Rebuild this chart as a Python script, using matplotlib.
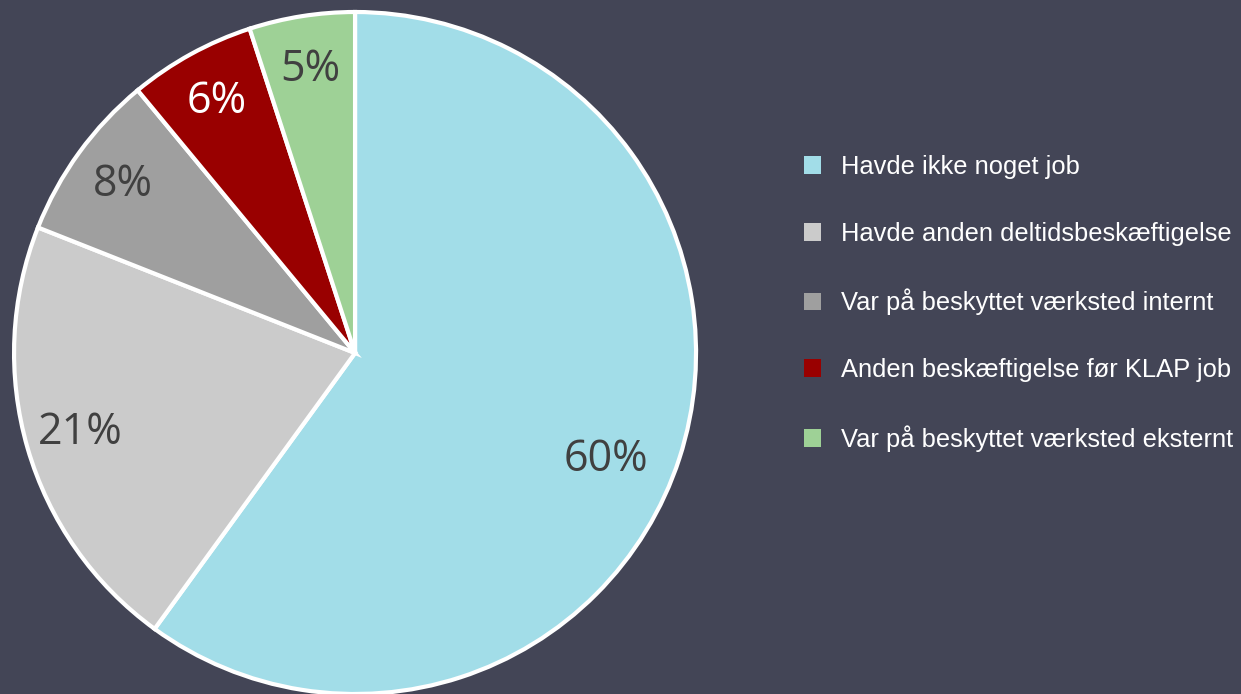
import numpy
import matplotlib
matplotlib.use("Agg")
from matplotlib import pyplot
from matplotlib.patches import Patch

categories = [
    "Havde ikke noget job",
    "Havde anden deltidsbeskæftigelse",
    "Var på beskyttet værksted internt",
    "Anden beskæftigelse før KLAP job",
    "Var på beskyttet værksted eksternt",
]
shares = [60, 21, 8, 6, 5]
colors = ["#A2DDE8", "#CBCBCB", "#9F9F9F", "#990000", "#9ED196"]
label_colors = ["#404040", "#404040", "#404040", "#FFFFFF", "#404040"]

BACKGROUND = "#434556"

figure = pyplot.figure(figsize=(12.41, 6.94), dpi=100)
figure.patch.set_facecolor(BACKGROUND)

axis = figure.add_axes([0.0113, 0.0, 0.5496, 0.9827])
axis.set_facecolor(BACKGROUND)

wedges, texts, autotexts = axis.pie(
    shares,
    colors=colors,
    startangle=90,
    counterclock=False,
    autopct="%d%%",
    pctdistance=0.84,
    wedgeprops={"edgecolor": "white", "linewidth": 3},
    textprops={"fontsize": 31, "family": "Open Sans"},
)
for text, color in zip(autotexts, label_colors):
    text.set_color(color)

# the big slice's label sits a bit lower than its middle, as in the source
big = wedges[0]
angle = numpy.deg2rad((big.theta1 + big.theta2) / 2 - 5)
autotexts[0].set_position((0.80 * numpy.cos(angle), 0.80 * numpy.sin(angle)))

axis.set_xlim(-1.0, 1.0)
axis.set_ylim(-1.0, 1.0)
axis.set_aspect("equal")
axis.axis("off")
for wedge in wedges:
    wedge.set_clip_on(False)

handles = [Patch(facecolor=c, edgecolor="none") for c in colors]
legend = figure.legend(
    handles,
    categories,
    loc="upper left",
    bbox_to_anchor=(0.629, 0.81),
    frameon=False,
    handlelength=0.7,
    handleheight=0.7,
    handletextpad=0.75,
    labelspacing=1.68,
    prop={"family": "Liberation Sans", "size": 18.4},
    labelcolor="white",
)

figure.savefig("out.png", dpi=100, facecolor=BACKGROUND)
